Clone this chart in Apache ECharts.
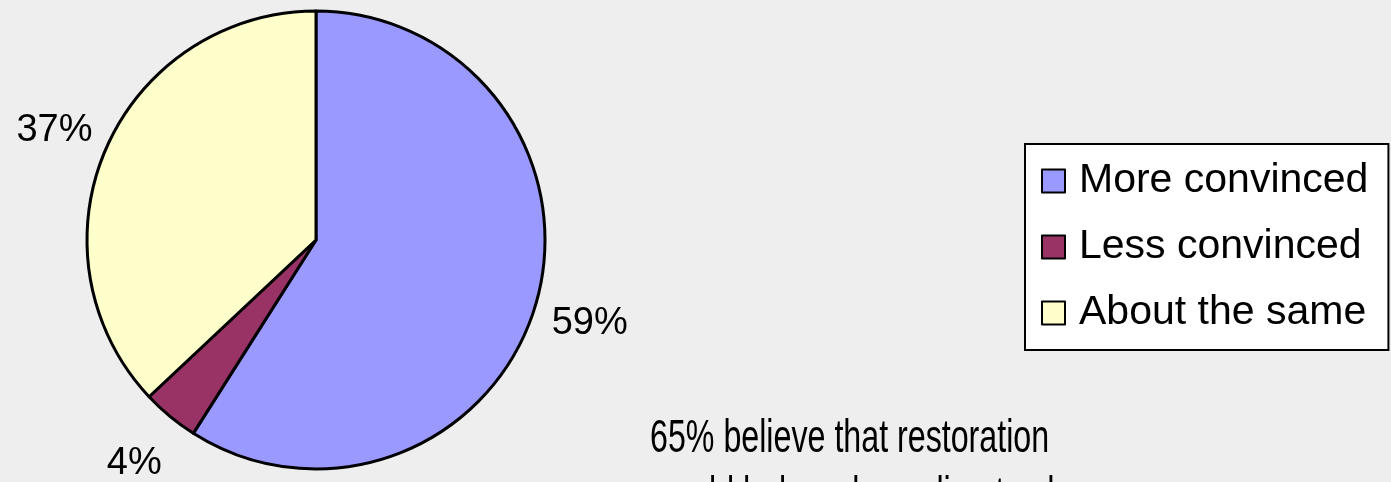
<!DOCTYPE html>
<html>
<head>
<meta charset="utf-8">
<script src="https://cdn.jsdelivr.net/npm/echarts@6/dist/echarts.min.js"></script>
<style>
html,body{margin:0;padding:0;background:#eeeeee;}
#c{width:1391px;height:482px;}
</style>
</head>
<body>
<div id="c"></div>
<script>
const categories = ['More convinced', 'Less convinced', 'About the same'];
const values = [59, 4, 37];
const colors = ['#9999ff', '#993366', '#ffffcc'];
const noteLines = ['65% believe that restoration', 'would help reduce climate change'];

const chart = echarts.init(document.getElementById('c'), null, {renderer: 'canvas'});
const option = {
  backgroundColor: '#eeeeee',
  animation: false,
  legend: {
    orient: 'vertical',
    left: 1025,
    top: 144,
    padding: [15, 20, 15, 16],
    backgroundColor: '#ffffff',
    borderColor: '#000000',
    borderWidth: 2,
    borderRadius: 0,
    itemWidth: 23,
    itemHeight: 23,
    itemGap: 22,
    icon: 'rect',
    itemStyle: {borderColor: '#000000', borderWidth: 2},
    textStyle: {fontFamily: 'Liberation Sans, Arial, sans-serif', fontSize: 41, color: '#000', lineHeight: 44, padding: [0, 0, 0, 9]},
    data: categories
  },
  series: [{
    type: 'pie',
    center: [316, 240],
    radius: 229,
    startAngle: 90,
    clockwise: true,
    avoidLabelOverlap: false,
    itemStyle: {borderColor: '#000000', borderWidth: 3},
    label: {
      show: true,
      position: 'outside',
      formatter: p => p.value + '%',
      fontFamily: 'Liberation Sans, Arial, sans-serif',
      fontSize: 38,
      color: '#000',
      distanceToLabelLine: 0
    },
    labelLine: {show: false, length: 56, length2: 0},
    labelLayout: {align: 'center', verticalAlign: 'middle', dy: 4},
    emphasis: {disabled: true},
    data: categories.map((n, i) => ({name: n, value: values[i], itemStyle: {color: colors[i]}}))
  }],
  graphic: noteLines.map((t, i) => ({
    type: 'text',
    x: 650,
    y: 416 + i * 57,
    scaleX: 0.7,
    style: {text: t, font: '46px "Liberation Sans", Arial, sans-serif', fill: '#000', verticalAlign: 'top'}
  }))
};
chart.setOption(option);
</script>
</body>
</html>
